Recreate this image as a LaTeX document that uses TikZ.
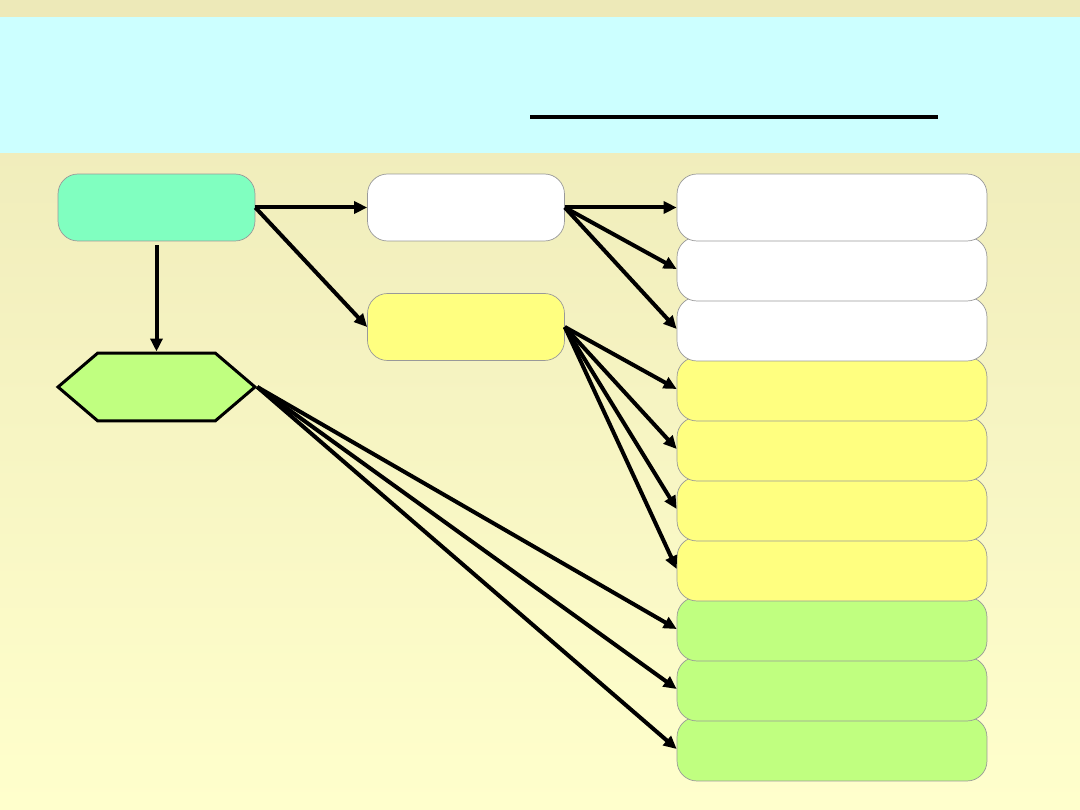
\documentclass[tikz,border=0pt]{standalone}
\usetikzlibrary{arrows.meta,positioning,shapes.symbols}
\definecolor{cBgTop}{HTML}{EDE9B8}
\definecolor{cBgBot}{HTML}{FFFFCC}
\definecolor{cTitle}{HTML}{CCFFFF}
\definecolor{cRoot}{HTML}{80FFC0}
\definecolor{cWhite}{HTML}{FFFFFF}
\definecolor{cYellow}{HTML}{FFFF80}
\definecolor{cGreen}{HTML}{C0FF80}

\begin{document}
\begin{tikzpicture}[
    x=0.02cm, y=-0.02cm,
    box/.style={rectangle, rounded corners=0.4cm, draw=black!40, fill=#1, minimum width=3.94cm, minimum height=1.34cm, inner sep=0pt},
    box/.default={cWhite},
    item/.style={rectangle, rounded corners=0.4cm, draw=black!40, fill=#1, minimum width=6.2cm, minimum height=1.28cm, inner sep=0pt},
    item/.default={cWhite},
    hexa/.style={signal, signal to=east and west, signal pointer angle=81, draw=black, line width=0.06cm, fill=cGreen, minimum width=3.94cm, minimum height=1.36cm, inner sep=0pt},
    arr/.style={-{Triangle[length=0.26cm, width=0.24cm]}, line width=0.08cm, black},
]

% background
\useasboundingbox (0,0) rectangle (1080,810);
\shade[top color=cBgTop, bottom color=cBgBot] (0,0) rectangle (1080,810);
\fill[cTitle] (0,17) rectangle (1080,153);
\draw[line width=0.08cm] (530,117) -- (938,117);

% left column
\node[box=cRoot] (root) at (156.5,207.5) {};
\node[hexa] (hex) at (156.5,387) {};

% middle column
\node[box=cWhite] (mw) at (466,207.5) {};
\node[box=cYellow] (my) at (466,327) {};

% right column
\foreach \i/\c in {10/cGreen,9/cGreen,8/cGreen,7/cYellow,6/cYellow,5/cYellow,4/cYellow,3/cWhite,2/cWhite}
  \node[item=\c] (r\i) at (832,{269+60*(\i-2)}) {};
\node[item=cWhite, minimum height=1.34cm] (r1) at (832,207.5) {};

% arrows
\draw[arr] (root.east) -- (mw.west);
\draw[arr] (root.east) -- (my.west);
\draw[arr, shorten <=0.08cm] (root.south) -- (hex.north);
\foreach \i in {1,2,3}
  \draw[arr] (mw.east) -- (r\i.west);
\foreach \i in {4,5,6,7}
  \draw[arr] (my.east) -- (r\i.west);
\foreach \i in {8,9,10}
  \draw[arr] (hex.east) -- (r\i.west);

\end{tikzpicture}
\end{document}
